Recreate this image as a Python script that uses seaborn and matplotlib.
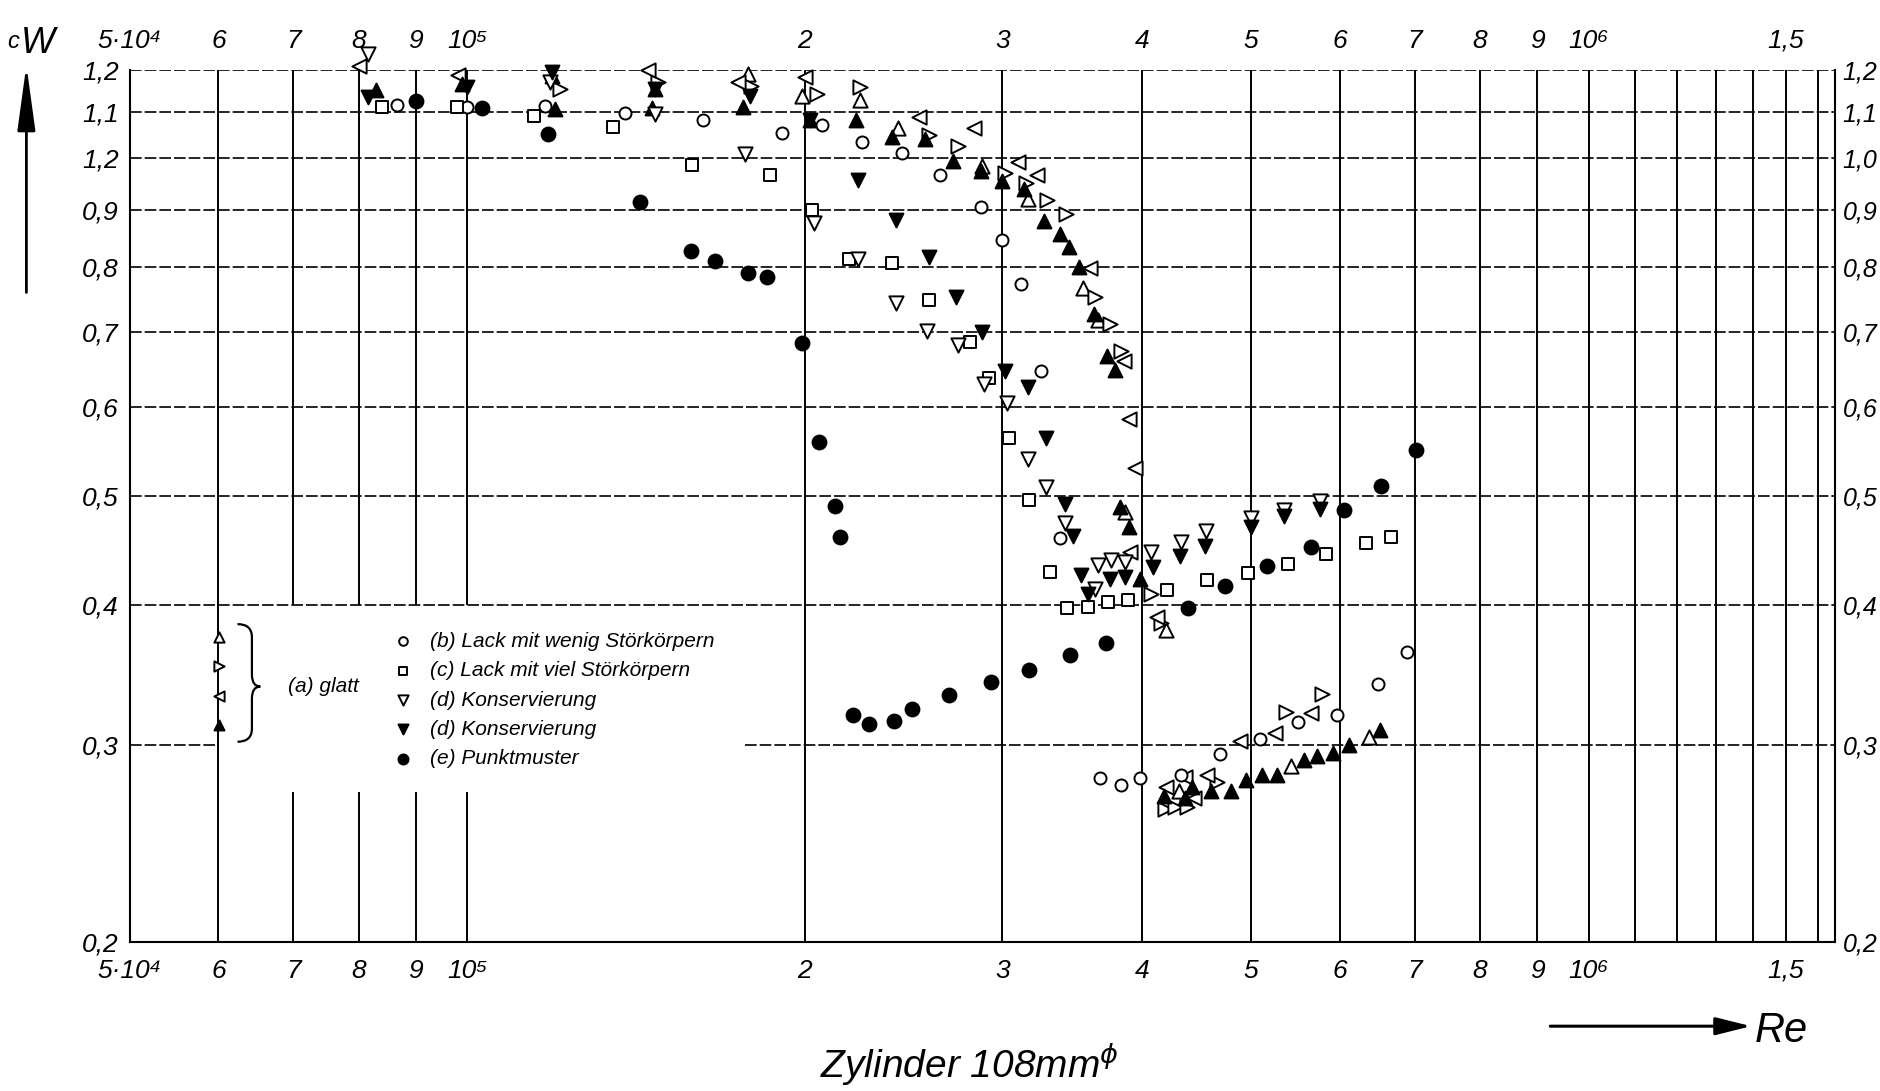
import numpy as np
import pandas as pd
import matplotlib
matplotlib.use("Agg")
import matplotlib.pyplot as plt
import seaborn as sns
from matplotlib.path import Path
from matplotlib.patches import PathPatch
from matplotlib.ticker import NullLocator, NullFormatter

# ---------------- data ----------------
# (a) glatt, open up-triangle
a1_re = [1.78e5, 1.99e5, 2.24e5, 2.42e5, 2.88e5, 3.16e5, 3.54e5, 3.65e5, 3.86e5, 4.20e5, 4.31e5, 5.43e5, 6.37e5]
a1_cw = [1.189, 1.136, 1.128, 1.065, 0.985, 0.920, 0.767, 0.718, 0.484, 0.380, 0.273, 0.287, 0.305]
# (a) glatt, open right-triangle
a2_re = [1.21e5, 1.48e5, 1.79e5, 2.05e5, 2.24e5, 2.58e5, 2.74e5, 3.02e5, 3.15e5, 3.29e5, 3.42e5, 3.63e5, 3.74e5,
         3.83e5, 4.07e5, 4.16e5, 4.19e5, 4.28e5, 4.38e5, 4.66e5, 5.37e5, 5.78e5]
a2_cw = [1.154, 1.171, 1.160, 1.142, 1.157, 1.049, 1.026, 0.970, 0.950, 0.918, 0.893, 0.752, 0.712,
         0.673, 0.409, 0.385, 0.263, 0.264, 0.264, 0.278, 0.321, 0.333]
# (a) glatt, open left-triangle
a3_re = [8.0e4, 9.82e4, 1.45e5, 1.745e5, 2.0e5, 2.53e5, 2.83e5, 3.10e5, 3.22e5, 3.59e5, 3.85e5, 3.89e5, 3.94e5,
         3.90e5, 4.12e5, 4.20e5, 4.37e5, 4.45e5, 4.57e5, 4.89e5, 5.25e5, 5.65e5]
a3_cw = [1.21, 1.186, 1.20, 1.169, 1.181, 1.089, 1.064, 0.992, 0.966, 0.798, 0.660, 0.585, 0.529,
         0.446, 0.390, 0.275, 0.281, 0.269, 0.282, 0.3025, 0.307, 0.320]
# (a) glatt, filled up-triangle
a4_re = [8.3e4, 9.9e4, 1.19e5, 1.198e5, 1.46e5, 1.47e5, 1.763e5, 2.02e5, 2.22e5, 2.39e5, 2.56e5, 2.71e5, 2.87e5,
         3.00e5, 3.14e5, 3.27e5, 3.38e5, 3.44e5, 3.51e5, 3.62e5, 3.72e5, 3.78e5, 3.82e5, 3.89e5, 3.98e5,
         4.18e5, 4.37e5, 4.43e5, 4.61e5, 4.80e5, 4.95e5, 5.11e5, 5.27e5, 5.57e5, 5.72e5, 5.92e5, 6.12e5, 6.51e5]
a4_cw = [1.150, 1.164, 1.185, 1.107, 1.108, 1.154, 1.111, 1.083, 1.083, 1.045, 1.040, 0.995, 0.975,
         0.955, 0.939, 0.880, 0.856, 0.833, 0.800, 0.727, 0.667, 0.647, 0.489, 0.469, 0.422,
         0.270, 0.269, 0.275, 0.273, 0.273, 0.279, 0.282, 0.282, 0.291, 0.293, 0.295, 0.300, 0.309]
# (b) Lack mit wenig Störkörpern, open circle
b_re = [8.65e4, 1.0e5, 1.174e5, 1.383e5, 1.622e5, 1.907e5, 2.07e5, 2.25e5, 2.44e5, 2.64e5, 2.87e5, 3.0e5, 3.12e5,
        3.25e5, 3.38e5, 3.67e5, 3.83e5, 3.98e5, 4.33e5, 4.69e5, 5.09e5, 5.51e5, 5.97e5, 6.49e5, 6.89e5]
b_cw = [1.117, 1.111, 1.114, 1.097, 1.081, 1.054, 1.072, 1.034, 1.012, 0.967, 0.905, 0.845, 0.773,
        0.646, 0.459, 0.280, 0.276, 0.280, 0.282, 0.2946, 0.3035, 0.3144, 0.3187, 0.3397, 0.3627]
# (c) Lack mit viel Störkörpern, open square
c_re = [8.4e4, 9.8e4, 1.148e5, 1.35e5, 1.586e5, 1.862e5, 2.03e5, 2.19e5, 2.39e5, 2.58e5, 2.81e5, 2.92e5, 3.04e5,
        3.17e5, 3.31e5, 3.43e5, 3.58e5, 3.73e5, 3.88e5, 4.21e5, 4.57e5, 4.97e5, 5.39e5, 5.83e5, 6.33e5, 6.67e5]
c_cw = [1.111, 1.111, 1.090, 1.067, 0.986, 0.967, 0.900, 0.813, 0.807, 0.747, 0.686, 0.637, 0.563,
        0.496, 0.428, 0.397, 0.398, 0.402, 0.404, 0.412, 0.421, 0.427, 0.435, 0.444, 0.454, 0.460]
# (d) Konservierung, open down-triangle
d1_re = [8.15e4, 1.186e5, 1.47e5, 1.77e5, 2.04e5, 2.23e5, 2.41e5, 2.57e5, 2.74e5, 2.89e5, 3.03e5, 3.16e5, 3.28e5,
         3.41e5, 3.63e5, 3.65e5, 3.75e5, 3.86e5, 4.07e5, 4.33e5, 4.56e5, 5.0e5, 5.35e5, 5.76e5]
d1_cw = [1.24, 1.169, 1.095, 1.009, 0.875, 0.813, 0.743, 0.701, 0.681, 0.629, 0.605, 0.539, 0.509,
         0.473, 0.413, 0.434, 0.438, 0.437, 0.446, 0.455, 0.465, 0.478, 0.4855, 0.495]
# (d) Konservierung, filled down-triangle
d2_re = [8.15e4, 1.0e5, 1.19e5, 1.47e5, 1.787e5, 2.02e5, 2.23e5, 2.41e5, 2.58e5, 2.73e5, 2.88e5, 3.02e5, 3.16e5,
         3.28e5, 3.41e5, 3.47e5, 3.53e5, 3.58e5, 3.74e5, 3.86e5, 4.09e5, 4.32e5, 4.55e5, 5.0e5, 5.35e5, 5.76e5]
d2_cw = [1.135, 1.158, 1.193, 1.154, 1.136, 1.083, 0.957, 0.882, 0.816, 0.752, 0.700, 0.646, 0.625,
         0.563, 0.492, 0.461, 0.425, 0.409, 0.422, 0.423, 0.432, 0.442, 0.451, 0.469, 0.480, 0.487]
# (e) Punktmuster, filled circle
e_re = [9.0e4, 1.03e5, 1.18e5, 1.426e5, 1.583e5, 1.663e5, 1.779e5, 1.849e5, 1.99e5, 2.06e5, 2.13e5, 2.15e5,
        2.21e5, 2.28e5, 2.40e5, 2.49e5, 2.69e5, 2.93e5, 3.17e5, 3.45e5, 3.71e5, 4.39e5, 4.74e5, 5.17e5,
        5.65e5, 6.05e5, 6.53e5, 7.02e5]
e_cw = [1.124, 1.108, 1.051, 0.914, 0.826, 0.810, 0.791, 0.784, 0.684, 0.559, 0.490, 0.460,
        0.319, 0.313, 0.315, 0.323, 0.332, 0.341, 0.350, 0.361, 0.370, 0.397, 0.416, 0.433,
        0.450, 0.486, 0.510, 0.549]

legend_labels = ["(b) Lack mit wenig Störkörpern", "(c) Lack mit viel Störkörpern",
                 "(d) Konservierung", "(d) Konservierung", "(e) Punktmuster"]
glatt_label = "(a) glatt"

x_ticks = [5e4, 6e4, 7e4, 8e4, 9e4, 1e5, 2e5, 3e5, 4e5, 5e5, 6e5, 7e5, 8e5, 9e5, 1e6, 1.5e6]
x_ticklabels = ["5·10⁴", "6", "7", "8", "9", "10⁵", "2", "3", "4", "5", "6", "7", "8", "9", "10⁶", "1,5"]
y_ticks = [0.2, 0.3, 0.4, 0.5, 0.6, 0.7, 0.8, 0.9, 1.0, 1.1, 1.2]
y_ticklabels_left = ["0,2", "0,3", "0,4", "0,5", "0,6", "0,7", "0,8", "0,9", "1,2", "1,1", "1,2"]
y_ticklabels_right = ["0,2", "0,3", "0,4", "0,5", "0,6", "0,7", "0,8", "0,9", "1,0", "1,1", "1,2"]
v_grid_full = [6e4, 2e5, 3e5, 4e5, 5e5, 6e5, 7e5, 8e5, 9e5, 1e6, 1.1e6, 1.2e6, 1.3e6, 1.4e6, 1.5e6, 1.6e6]
v_grid_broken = [7e4, 8e4, 9e4, 1e5]
h_grid = [0.4, 0.5, 0.6, 0.7, 0.8, 0.9, 1.0, 1.1, 1.2]

# ---------------- style ----------------
sns.set_theme(style="white")
plt.rcParams["font.family"] = ["Liberation Sans Narrow", "Liberation Sans", "DejaVu Sans"]
plt.rcParams["font.style"] = "italic"
for k in ["text.color", "axes.labelcolor", "xtick.color", "ytick.color", "axes.edgecolor"]:
    plt.rcParams[k] = "black"

W, H = 1881, 1091
fig = plt.figure(figsize=(W / 100, H / 100), dpi=100)
fig.patch.set_facecolor("white")
ax = fig.add_axes([0.0689, 0.1364, 0.9069, 0.7998])
ax.set_facecolor("white")
ax.set_xscale("log")
ax.set_yscale("log")
xmin, xmax = 5e4, 1.66e6
ax.set_xlim(xmin, xmax)
ax.set_ylim(0.2, 1.2)

# grid
ax.vlines(v_grid_full, 0.2, 1.2, colors="black", lw=1.4, zorder=1)
ax.vlines(v_grid_broken, 0.4, 1.2, colors="black", lw=1.4, zorder=1)
ax.vlines(v_grid_broken, 0.2, 0.272, colors="black", lw=1.4, zorder=1)
ax.hlines(h_grid, xmin, xmax, colors="black", lw=1.2, linestyles=(0, (7, 1.8)), zorder=1)
ax.hlines([0.3], xmin, 6e4, colors="black", lw=1.2, linestyles=(0, (7, 1.8)), zorder=1)
ax.hlines([0.3], 1.77e5, xmax, colors="black", lw=1.2, linestyles=(0, (7, 1.8)), zorder=1)

for sp in ["left", "right", "bottom"]:
    ax.spines[sp].set_color("black")
    ax.spines[sp].set_linewidth(1.5)
ax.spines["top"].set_visible(False)

# ---------------- data marks ----------------
series = [
    (a1_re, a1_cw, "^", False, 105, "a1"),
    (a2_re, a2_cw, ">", False, 105, "a2"),
    (a3_re, a3_cw, "<", False, 105, "a3"),
    (a4_re, a4_cw, "^", True, 100, "a4"),
    (b_re, b_cw, "o", False, 75, "b"),
    (c_re, c_cw, "s", False, 68, "c"),
    (d1_re, d1_cw, "v", False, 105, "d1"),
    (d2_re, d2_cw, "v", True, 100, "d2"),
    (e_re, e_cw, "o", True, 100, "e"),
]
handles = {}
for xs, ys, m, filled, s, key in series:
    df = pd.DataFrame({"Re": xs, "cw": ys})
    before = len(ax.collections)
    sns.scatterplot(data=df, x="Re", y="cw", marker=m, s=s,
                    facecolor="black" if filled else "white",
                    edgecolor="black", linewidth=1.4, ax=ax, legend=False, zorder=3,
                    clip_on=False)
    handles[key] = ax.collections[before]

ax.set_xlabel("")
ax.set_ylabel("")

# ---------------- ticks ----------------
ax.xaxis.set_minor_locator(NullLocator())
ax.xaxis.set_minor_formatter(NullFormatter())
ax.yaxis.set_minor_locator(NullLocator())
ax.yaxis.set_minor_formatter(NullFormatter())
ax.set_xticks(x_ticks)
ax.set_xticklabels(x_ticklabels)
ax.set_yticks(y_ticks)
ax.set_yticklabels(y_ticklabels_left)
ax.tick_params(axis="x", which="both", length=0, top=True, labeltop=True, bottom=True,
               labelbottom=True, labelsize=19, pad=12, labelcolor="black")
ax.tick_params(axis="y", which="both", length=0, left=True, labelleft=True, labelsize=19, pad=8,
               labelcolor="black")
for t in ax.get_xticklabels() + ax.get_yticklabels():
    t.set_fontstyle("italic")

ax2 = ax.twinx()
ax2.set_yscale("log")
ax2.set_ylim(0.2, 1.2)
ax2.yaxis.set_minor_locator(NullLocator())
ax2.yaxis.set_minor_formatter(NullFormatter())
ax2.set_yticks(y_ticks)
ax2.set_yticklabels(y_ticklabels_right)
ax2.tick_params(axis="y", length=0, labelsize=18, pad=5, labelcolor="black")
for t in ax2.get_yticklabels():
    t.set_fontstyle("italic")
for sp in ax2.spines.values():
    sp.set_visible(False)
ax2.grid(False)

# ---------------- legends ----------------
leg_a = ax.legend([handles["a1"], handles["a2"], handles["a3"], handles["a4"]], [" "] * 4,
                  loc="upper left", bbox_to_anchor=(0.111, 0.425), bbox_transform=fig.transFigure,
                  frameon=False, fontsize=15, labelspacing=0.5, handlelength=1.0, handletextpad=0.2,
                  borderpad=0, borderaxespad=0, markerscale=0.72)
ax.add_artist(leg_a)
leg_b = ax.legend([handles["b"], handles["c"], handles["d1"], handles["d2"], handles["e"]], legend_labels,
                  loc="upper left", bbox_to_anchor=(0.2085, 0.421), bbox_transform=fig.transFigure,
                  frameon=False, fontsize=15, labelspacing=0.5, handlelength=1.0, handletextpad=0.8,
                  borderpad=0, borderaxespad=0, markerscale=0.72)
for t in leg_b.get_texts():
    t.set_fontstyle("italic")
    t.set_color("black")

def fxy(x, y):
    return (x / 1568.0, 1 - y / 909.0)

brace_pts = [fxy(198, 520), fxy(210, 520), fxy(210, 531), fxy(210, 562), fxy(210, 572), fxy(217, 572),
             fxy(210, 572), fxy(210, 582), fxy(210, 607), fxy(210, 618), fxy(198, 618)]
brace_codes = [Path.MOVETO, Path.CURVE3, Path.CURVE3, Path.LINETO, Path.CURVE3, Path.CURVE3,
               Path.CURVE3, Path.CURVE3, Path.LINETO, Path.CURVE3, Path.CURVE3]
fig.add_artist(PathPatch(Path(brace_pts, brace_codes), facecolor="none", edgecolor="black",
                         lw=1.6, transform=fig.transFigure))
fig.text(*fxy(240, 572), glatt_label, fontsize=15, style="italic", va="center", ha="left")

# ---------------- axis annotations ----------------
fig.text(*fxy(6, 40), "c", fontsize=17, style="italic", va="baseline")
fig.text(*fxy(17, 44), "W", fontsize=26, style="italic", va="baseline")
ax.annotate("", xy=fxy(22, 52), xytext=fxy(22, 246), xycoords="figure fraction",
            textcoords="figure fraction",
            arrowprops=dict(arrowstyle="-|>,head_length=1.6,head_width=0.22", lw=2.0,
                            color="black", mutation_scale=25))
ax.annotate("", xy=fxy(1462, 855), xytext=fxy(1290, 855), xycoords="figure fraction",
            textcoords="figure fraction",
            arrowprops=dict(arrowstyle="-|>,head_length=1.2,head_width=0.3", lw=2.2,
                            color="black", mutation_scale=18))
fig.text(*fxy(1463, 868), "Re", fontsize=30, style="italic", va="baseline", ha="left")
fig.text(*fxy(808, 898), "Zylinder 108mm$^{\\phi}$", fontsize=28, style="italic",
         va="baseline", ha="center")

fig.savefig("out.png", dpi=100, facecolor="white")
